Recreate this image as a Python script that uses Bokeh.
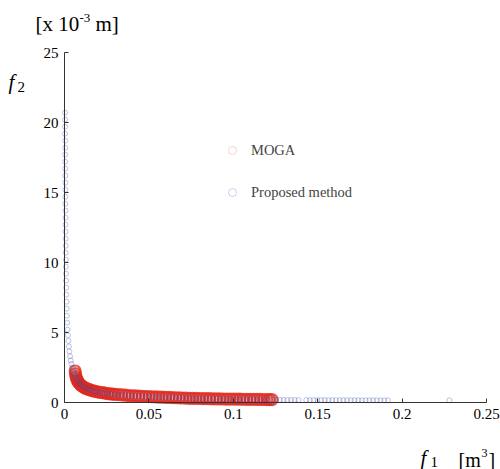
from bokeh.plotting import figure
from bokeh.models import Label, Legend, LegendItem, Range1d, FixedTicker
from bokeh.embed import file_html
from bokeh.resources import INLINE

# ---- data ----
moga_f1 = [0.0063, 0.0065, 0.0068, 0.0072, 0.0076, 0.0081, 0.0087, 0.0093, 0.0100, 0.0107,
           0.0115, 0.0124, 0.0134, 0.0145, 0.0156, 0.0168, 0.0180, 0.0195, 0.0210, 0.0225,
           0.0240, 0.0255, 0.0270, 0.0285, 0.0300, 0.0320, 0.0340, 0.0360, 0.0380, 0.0400,
           0.0420, 0.0440, 0.0460, 0.0480, 0.0500, 0.0520, 0.0540, 0.0560, 0.0580, 0.0600,
           0.0620, 0.0640, 0.0660, 0.0680, 0.0700, 0.0720, 0.0740, 0.0760, 0.0780, 0.0800,
           0.0820, 0.0840, 0.0860, 0.0880, 0.0900, 0.0920, 0.0940, 0.0960, 0.0980, 0.1000,
           0.1020, 0.1040, 0.1060, 0.1080, 0.1100, 0.1120, 0.1140, 0.1160, 0.1180, 0.1200,
           0.1215, 0.1230]
moga_f2 = [2.25, 2.05, 1.85, 1.70, 1.58, 1.47, 1.37, 1.28, 1.21, 1.15,
           1.08, 1.02, 0.97, 0.92, 0.88, 0.84, 0.80, 0.76, 0.73, 0.70,
           0.67, 0.64, 0.62, 0.60, 0.58, 0.56, 0.54, 0.52, 0.50, 0.48,
           0.47, 0.45, 0.44, 0.43, 0.42, 0.41, 0.40, 0.39, 0.38, 0.37,
           0.36, 0.35, 0.34, 0.33, 0.32, 0.31, 0.30, 0.295, 0.29, 0.285,
           0.28, 0.275, 0.27, 0.265, 0.26, 0.255, 0.25, 0.247, 0.244, 0.241,
           0.238, 0.235, 0.232, 0.229, 0.226, 0.223, 0.22, 0.217, 0.214, 0.211,
           0.209, 0.207]

prop_f1 = [0.0003, 0.0003, 0.0003, 0.0003, 0.0004, 0.0004, 0.0004, 0.0004, 0.0004, 0.0005,
           0.0005, 0.0005, 0.0005, 0.0005, 0.0006, 0.0006, 0.0006, 0.0006, 0.0007, 0.0007,
           0.0007, 0.0008, 0.0008, 0.0009, 0.0009, 0.0010, 0.0011, 0.0012, 0.0013, 0.0014,
           0.0016, 0.0018, 0.0020, 0.0023, 0.0026, 0.0029, 0.0033, 0.0037, 0.0041, 0.0046,
           0.0051, 0.0056, 0.0061, 0.0067, 0.0073, 0.0080, 0.0088, 0.0096, 0.0105, 0.0115,
           0.0126, 0.0138, 0.0150, 0.0163, 0.0177, 0.0192, 0.0207, 0.0223, 0.0240, 0.0258,
           0.0276, 0.0295, 0.0315, 0.0335, 0.0355, 0.0376, 0.0397, 0.0418, 0.0440, 0.0462,
           0.0484, 0.0506, 0.0528, 0.0550, 0.0572, 0.0594, 0.0616, 0.0638, 0.0660, 0.0682,
           0.0704, 0.0726, 0.0748, 0.0770, 0.0792, 0.0814, 0.0836, 0.0858, 0.0880, 0.0902,
           0.0924, 0.0946, 0.0968, 0.0990, 0.1012, 0.1034, 0.1056, 0.1078, 0.1100, 0.1122,
           0.1144, 0.1166, 0.1188, 0.1210, 0.1232, 0.1254, 0.1276, 0.1298, 0.1320, 0.1342,
           0.1364, 0.1386, 0.1432, 0.1454, 0.1476, 0.1498, 0.1520, 0.1542, 0.1564, 0.1586,
           0.1608, 0.1630, 0.1652, 0.1674, 0.1696, 0.1718, 0.1740, 0.1762, 0.1784, 0.1806,
           0.1828, 0.1850, 0.1872, 0.1894, 0.1916, 0.2280]
prop_f2 = [20.7, 20.2, 19.7, 19.2, 18.7, 18.2, 17.7, 17.2, 16.7, 16.2,
           15.7, 15.2, 14.7, 14.2, 13.7, 13.2, 12.7, 12.2, 11.7, 11.2,
           10.7, 10.2, 9.7, 9.2, 8.7, 8.2, 7.7, 7.2, 6.7, 6.2,
           5.7, 5.2, 4.8, 4.4, 4.0, 3.65, 3.3, 3.0, 2.75, 2.5,
           2.3, 2.1, 1.95, 1.8, 1.65, 1.52, 1.40, 1.30, 1.20, 1.11,
           1.03, 0.96, 0.90, 0.85, 0.80, 0.76, 0.72, 0.69, 0.66, 0.63,
           0.61, 0.59, 0.56, 0.54, 0.52, 0.50, 0.48, 0.47, 0.45, 0.44,
           0.43, 0.41, 0.40, 0.39, 0.38, 0.37, 0.36, 0.35, 0.34, 0.33,
           0.32, 0.31, 0.30, 0.29, 0.28, 0.275, 0.27, 0.265, 0.26, 0.255,
           0.25, 0.245, 0.24, 0.235, 0.23, 0.225, 0.22, 0.215, 0.21, 0.205,
           0.20, 0.198, 0.196, 0.194, 0.192, 0.19, 0.188, 0.186, 0.184, 0.182,
           0.18, 0.178, 0.176, 0.175, 0.174, 0.173, 0.172, 0.171, 0.170, 0.169,
           0.168, 0.167, 0.166, 0.165, 0.164, 0.163, 0.162, 0.161, 0.160, 0.159,
           0.158, 0.157, 0.156, 0.155, 0.154, 0.16]

x_ticks = [0, 0.05, 0.1, 0.15, 0.2, 0.25]
x_tick_labels = ["0", "0.05", "0.1", "0.15", "0.2", "0.25"]
y_ticks = [0, 5, 10, 15, 20, 25]

# ---- layout: the frame covers the whole canvas, axes are fixed inside it ----
W, H = 500, 469
X0, X1, Y0, Y1 = 0.0, 0.25, 0.0, 25.0
PX0, PX1, PY0, PY1 = 64, 486, 402, 52      # pixel positions of X0, X1, Y0, Y1
SERIF = "Liberation Serif"
NAN = float("nan")

def dx(px):
    return X0 + (px - PX0) / (PX1 - PX0) * (X1 - X0)

def dy(py):
    return Y0 + (PY0 - py) / (PY0 - PY1) * (Y1 - Y0)

p = figure(width=W, height=H, output_backend="svg", toolbar_location=None,
           x_range=Range1d(dx(0), dx(W)), y_range=Range1d(dy(H), dy(0)),
           min_border=0)
p.outline_line_color = None
p.grid.visible = False
p.background_fill_color = "white"
p.border_fill_color = "white"

p.xaxis.fixed_location = 0
p.yaxis.fixed_location = 0
p.xaxis.bounds = (X0, X1)
p.yaxis.bounds = (Y0, Y1)

for ax in (p.xaxis[0], p.yaxis[0]):
    ax.major_tick_in = 4
    ax.major_tick_out = 0
    ax.minor_tick_line_color = None
    ax.axis_line_color = "#333333"
    ax.major_tick_line_color = "#333333"
    ax.major_label_text_font = SERIF
    ax.major_label_text_font_size = "15px"
    ax.major_label_text_color = "black"
    ax.major_label_standoff = 6

p.xaxis.ticker = FixedTicker(ticks=x_ticks)
p.xaxis.major_label_overrides = {t: l for t, l in zip(x_ticks, x_tick_labels)}
p.yaxis.ticker = FixedTicker(ticks=y_ticks)

r_red = p.scatter(moga_f1, moga_f2, marker="circle", size=11, fill_color="#e0281c",
                  fill_alpha=0.1, line_color="#e0281c", line_alpha=0.75, line_width=2.2)
r_blue = p.scatter(prop_f1, prop_f2, marker="circle", size=5, fill_color=None,
                   line_color="#3346a8", line_alpha=0.32, line_width=1)

# faint proxies used only for the legend swatches (no visible data)
leg_red = p.scatter([NAN], [NAN], marker="circle", size=8, fill_color=None,
                    line_color="#e0281c", line_alpha=0.2, line_width=1)
leg_blue = p.scatter([NAN], [NAN], marker="circle", size=5, fill_color=None,
                     line_color="#3346a8", line_alpha=0.25, line_width=1)

legend = Legend(items=[LegendItem(label="MOGA", renderers=[leg_red]),
                       LegendItem(label="Proposed method", renderers=[leg_blue])],
                location=(222, H - 202), border_line_color=None, background_fill_alpha=0,
                label_text_font=SERIF, label_text_font_size="14.5px",
                spacing=22, padding=0, margin=0, glyph_width=20, glyph_height=20,
                label_height=20, label_standoff=9)
p.add_layout(legend)

def lab(text, px, py, size, style="normal"):
    p.add_layout(Label(x=dx(px), y=dy(py), text=text, text_font=SERIF,
                       text_font_size=size, text_font_style=style,
                       text_align="left", text_baseline="alphabetic", text_color="black"))

# unit label at top
lab("[x 10", 35, 23, "21px")
lab("-3", 79, 17, "13px")
lab("m]", 95, 23, "21px")
# y axis name
lab("f", 8, 81, "21px", "italic")
lab("2", 17, 86, "15px")
# x axis name
lab("f", 420, 457, "21px", "italic")
lab("1", 430, 461, "15px")
lab("[m", 458, 459, "20px")
lab("3", 481, 452, "12px")
lab("]", 488, 459, "20px")

open("out.html", "w").write(file_html(p, INLINE))
